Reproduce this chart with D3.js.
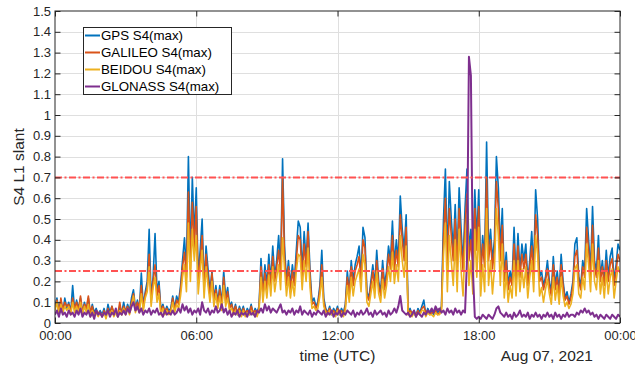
<!DOCTYPE html>
<html>
<head>
<meta charset="utf-8">
<script src="https://cdn.jsdelivr.net/npm/d3@7"></script>
<style>
  body { margin: 0; background: #fff; }
  svg { display: block; font-family: "Liberation Sans", Arial, sans-serif; }
</style>
</head>
<body>
<svg width="635" height="368"></svg>
<script>
// 5-minute samples, 00:00 Aug 07 2021 to 00:00 Aug 08 2021 (289 points)
var gps = [
  0.08,0.12,0.06,0.11,0.05,0.12,0.07,0.10,0.05,0.18,0.06,0.11,
  0.07,0.12,0.05,0.10,0.06,0.12,0.04,0.09,0.05,0.07,0.04,0.06,
  0.04,0.07,0.03,0.09,0.05,0.08,0.04,0.06,0.03,0.08,0.05,0.10,
  0.05,0.09,0.06,0.12,0.16,0.07,0.11,0.06,0.24,0.08,0.15,0.20,
  0.45,0.12,0.22,0.43,0.15,0.20,0.06,0.09,0.05,0.08,0.06,0.07,
  0.13,0.07,0.13,0.10,0.18,0.30,0.41,0.25,0.80,0.30,0.70,0.41,
  0.65,0.22,0.35,0.50,0.18,0.37,0.26,0.15,0.25,0.12,0.18,0.10,
  0.18,0.09,0.25,0.12,0.17,0.08,0.10,0.05,0.09,0.04,0.08,0.05,
  0.08,0.04,0.07,0.05,0.09,0.04,0.07,0.05,0.08,0.31,0.15,0.28,
  0.18,0.33,0.20,0.37,0.22,0.30,0.42,0.25,0.79,0.37,0.20,0.30,
  0.18,0.28,0.20,0.35,0.49,0.46,0.25,0.44,0.30,0.48,0.25,0.10,
  0.12,0.08,0.10,0.18,0.35,0.12,0.07,0.05,0.08,0.04,0.07,0.05,
  0.08,0.04,0.07,0.05,0.09,0.25,0.15,0.30,0.20,0.28,0.32,0.37,
  0.22,0.46,0.41,0.15,0.12,0.20,0.28,0.18,0.35,0.20,0.15,0.30,
  0.18,0.25,0.37,0.30,0.49,0.28,0.40,0.30,0.61,0.45,0.35,0.52,
  0.05,0.07,0.04,0.06,0.03,0.07,0.05,0.08,0.11,0.04,0.07,0.05,
  0.06,0.04,0.07,0.05,0.06,0.08,0.49,0.74,0.30,0.68,0.50,0.35,
  0.57,0.30,0.65,0.45,0.28,0.55,0.74,0.35,0.45,0.30,0.64,0.40,
  0.64,0.25,0.42,0.30,0.87,0.35,0.45,0.30,0.40,0.80,0.65,0.35,
  0.55,0.22,0.34,0.18,0.25,0.20,0.46,0.22,0.43,0.25,0.38,0.30,
  0.38,0.20,0.30,0.44,0.25,0.64,0.50,0.22,0.25,0.18,0.22,0.30,
  0.20,0.15,0.32,0.18,0.25,0.15,0.33,0.20,0.12,0.15,0.10,0.14,
  0.20,0.38,0.41,0.22,0.18,0.30,0.25,0.55,0.40,0.25,0.56,0.30,
  0.25,0.42,0.22,0.30,0.20,0.35,0.22,0.32,0.36,0.20,0.28,0.38,0.35
];
var galileo = [
  0.07,0.11,0.05,0.12,0.06,0.10,0.08,0.09,0.05,0.12,0.07,0.10,
  0.06,0.13,0.05,0.09,0.07,0.13,0.05,0.08,0.04,0.06,0.05,0.05,
  0.03,0.06,0.04,0.07,0.04,0.08,0.05,0.05,0.04,0.10,0.04,0.08,
  0.06,0.08,0.05,0.10,0.14,0.06,0.10,0.07,0.18,0.07,0.14,0.17,
  0.33,0.10,0.20,0.28,0.13,0.18,0.05,0.08,0.06,0.07,0.05,0.06,
  0.12,0.06,0.11,0.09,0.16,0.27,0.34,0.22,0.63,0.26,0.58,0.36,
  0.56,0.20,0.30,0.42,0.16,0.33,0.22,0.13,0.24,0.11,0.16,0.09,
  0.16,0.08,0.22,0.10,0.15,0.07,0.09,0.05,0.08,0.05,0.07,0.04,
  0.07,0.05,0.06,0.04,0.08,0.05,0.06,0.04,0.07,0.27,0.14,0.24,
  0.16,0.28,0.18,0.32,0.20,0.27,0.35,0.22,0.70,0.32,0.18,0.27,
  0.16,0.25,0.18,0.30,0.42,0.40,0.22,0.38,0.27,0.44,0.22,0.09,
  0.10,0.07,0.09,0.16,0.28,0.10,0.06,0.05,0.07,0.05,0.06,0.04,
  0.07,0.05,0.06,0.04,0.08,0.22,0.14,0.27,0.18,0.25,0.28,0.32,
  0.20,0.40,0.36,0.13,0.11,0.18,0.25,0.16,0.30,0.18,0.13,0.26,
  0.16,0.22,0.33,0.26,0.42,0.25,0.35,0.27,0.52,0.40,0.30,0.46,
  0.04,0.06,0.05,0.05,0.04,0.06,0.04,0.07,0.08,0.05,0.06,0.04,
  0.05,0.05,0.06,0.04,0.05,0.07,0.40,0.60,0.26,0.55,0.42,0.30,
  0.50,0.26,0.55,0.38,0.25,0.47,0.62,0.30,0.40,0.26,0.55,0.35,
  0.56,0.22,0.38,0.27,0.70,0.30,0.40,0.26,0.35,0.68,0.55,0.30,
  0.47,0.20,0.30,0.16,0.22,0.18,0.38,0.20,0.37,0.22,0.33,0.26,
  0.33,0.18,0.27,0.37,0.22,0.52,0.42,0.20,0.22,0.16,0.20,0.26,
  0.18,0.13,0.28,0.16,0.22,0.13,0.28,0.18,0.11,0.13,0.09,0.12,
  0.18,0.32,0.35,0.20,0.16,0.27,0.22,0.46,0.35,0.22,0.47,0.27,
  0.22,0.36,0.20,0.27,0.18,0.30,0.20,0.28,0.31,0.18,0.25,0.33,0.30
];
var beidou = [
  0.06,0.10,0.04,0.09,0.05,0.08,0.06,0.08,0.04,0.10,0.05,0.08,
  0.05,0.10,0.04,0.08,0.05,0.09,0.03,0.06,0.04,0.05,0.03,0.05,
  0.03,0.05,0.02,0.06,0.04,0.06,0.03,0.05,0.03,0.06,0.04,0.07,
  0.04,0.07,0.04,0.08,0.13,0.05,0.08,0.05,0.14,0.06,0.12,0.15,
  0.27,0.08,0.17,0.22,0.10,0.14,0.04,0.07,0.04,0.06,0.04,0.05,
  0.10,0.05,0.09,0.07,0.13,0.22,0.28,0.15,0.48,0.20,0.45,0.30,
  0.42,0.14,0.25,0.35,0.12,0.27,0.18,0.10,0.20,0.08,0.14,0.07,
  0.13,0.06,0.18,0.08,0.12,0.06,0.07,0.04,0.06,0.04,0.06,0.03,
  0.06,0.03,0.05,0.04,0.06,0.04,0.05,0.03,0.06,0.22,0.10,0.20,
  0.12,0.23,0.13,0.27,0.15,0.22,0.28,0.16,0.41,0.26,0.13,0.22,
  0.12,0.20,0.13,0.25,0.33,0.32,0.16,0.30,0.20,0.36,0.17,0.07,
  0.08,0.06,0.07,0.13,0.22,0.08,0.05,0.04,0.06,0.04,0.05,0.03,
  0.06,0.04,0.05,0.03,0.06,0.18,0.10,0.22,0.13,0.20,0.23,0.26,
  0.15,0.33,0.28,0.10,0.08,0.14,0.20,0.12,0.25,0.14,0.10,0.21,
  0.12,0.18,0.27,0.20,0.34,0.19,0.28,0.20,0.42,0.30,0.22,0.37,
  0.04,0.05,0.03,0.05,0.03,0.05,0.04,0.06,0.06,0.03,0.05,0.04,
  0.04,0.03,0.05,0.04,0.04,0.06,0.32,0.48,0.15,0.42,0.30,0.18,
  0.40,0.15,0.45,0.25,0.13,0.38,0.52,0.18,0.30,0.14,0.45,0.22,
  0.46,0.13,0.28,0.15,0.55,0.18,0.30,0.14,0.26,0.55,0.42,0.18,
  0.38,0.12,0.24,0.10,0.18,0.12,0.30,0.13,0.30,0.15,0.26,0.17,
  0.27,0.12,0.22,0.30,0.15,0.42,0.33,0.13,0.17,0.10,0.16,0.21,
  0.14,0.09,0.22,0.11,0.18,0.09,0.22,0.13,0.08,0.10,0.07,0.09,
  0.14,0.26,0.28,0.14,0.12,0.22,0.16,0.38,0.28,0.15,0.38,0.20,
  0.16,0.30,0.14,0.22,0.12,0.25,0.14,0.22,0.26,0.12,0.20,0.27,0.24
];
var glonass = [
  0.04,0.06,0.03,0.07,0.04,0.05,0.03,0.06,0.04,0.05,0.03,0.06,
  0.04,0.07,0.03,0.05,0.04,0.06,0.03,0.05,0.02,0.06,0.04,0.05,
  0.03,0.05,0.04,0.06,0.03,0.05,0.04,0.07,0.03,0.05,0.04,0.06,
  0.04,0.07,0.05,0.08,0.10,0.06,0.08,0.05,0.07,0.04,0.06,0.05,
  0.07,0.04,0.06,0.05,0.07,0.04,0.05,0.03,0.06,0.04,0.05,0.04,
  0.06,0.04,0.05,0.07,0.05,0.09,0.06,0.08,0.05,0.07,0.04,0.06,
  0.05,0.07,0.04,0.10,0.06,0.05,0.07,0.04,0.06,0.05,0.08,0.05,
  0.06,0.09,0.05,0.07,0.04,0.06,0.03,0.05,0.04,0.06,0.03,0.05,
  0.04,0.05,0.03,0.06,0.04,0.05,0.03,0.06,0.05,0.07,0.05,0.09,
  0.06,0.08,0.05,0.07,0.06,0.05,0.07,0.09,0.05,0.06,0.04,0.06,
  0.05,0.07,0.04,0.06,0.05,0.08,0.04,0.06,0.05,0.04,0.06,0.03,
  0.05,0.04,0.06,0.05,0.04,0.06,0.03,0.05,0.04,0.06,0.03,0.05,
  0.04,0.06,0.03,0.05,0.04,0.06,0.05,0.04,0.06,0.03,0.05,0.04,
  0.06,0.04,0.05,0.07,0.04,0.05,0.03,0.06,0.04,0.05,0.06,0.04,
  0.05,0.03,0.06,0.04,0.05,0.07,0.05,0.08,0.13,0.06,0.05,0.04,
  0.05,0.03,0.04,0.06,0.03,0.05,0.04,0.03,0.05,0.04,0.06,0.05,
  0.07,0.05,0.08,0.06,0.07,0.05,0.06,0.04,0.07,0.05,0.06,0.04,
  0.07,0.05,0.06,0.04,0.06,0.05,0.30,1.28,1.19,0.25,0.03,0.02,
  0.03,0.02,0.04,0.03,0.02,0.04,0.03,0.02,0.04,0.07,0.08,0.05,
  0.04,0.03,0.05,0.03,0.04,0.02,0.05,0.03,0.04,0.06,0.03,0.04,
  0.03,0.05,0.02,0.04,0.03,0.05,0.03,0.04,0.02,0.04,0.03,0.05,
  0.03,0.04,0.02,0.05,0.03,0.04,0.02,0.04,0.03,0.05,0.03,0.04,
  0.04,0.03,0.05,0.04,0.06,0.05,0.07,0.05,0.06,0.04,0.05,0.03,
  0.04,0.02,0.04,0.03,0.02,0.04,0.03,0.02,0.04,0.03,0.02,0.04,0.03
];
var seriesNames = ["GPS S4(max)", "GALILEO S4(max)", "BEIDOU S4(max)", "GLONASS S4(max)"];
var seriesColors = ["#0072BD", "#D95319", "#EDB120", "#7E2F8E"];
var thresholds = [0.25, 0.7];
var yTicks = [0, 0.1, 0.2, 0.3, 0.4, 0.5, 0.6, 0.7, 0.8, 0.9, 1, 1.1, 1.2, 1.3, 1.4, 1.5];
var xTickHours = [0, 6, 12, 18, 24];

var t0 = Date.UTC(2021, 7, 7);
var times = gps.map(function(d, i) { return new Date(t0 + i * 5 * 60000); });
var xTicks = xTickHours.map(function(h) { return new Date(t0 + h * 3600000); });

var plotLeft = 55, plotRight = 620, plotTop = 11, plotBottom = 323;
var axisColor = "#262626";

var svg = d3.select("svg");

var x = d3.scaleUtc().domain([new Date(t0), new Date(t0 + 24 * 3600000)]).range([plotLeft, plotRight]);
var y = d3.scaleLinear().domain([0, 1.5]).range([plotBottom, plotTop]);

svg.append("defs").append("clipPath").attr("id", "plot")
  .append("rect").attr("x", plotLeft).attr("y", plotTop)
  .attr("width", plotRight - plotLeft).attr("height", plotBottom - plotTop);

// grid
var grid = svg.append("g").attr("stroke", "#dfdfdf").attr("stroke-width", 1);
grid.selectAll(".gy").data(yTicks.slice(1, -1)).enter().append("line")
  .attr("x1", plotLeft).attr("x2", plotRight)
  .attr("y1", function(d) { return Math.round(y(d)) + 0.5; })
  .attr("y2", function(d) { return Math.round(y(d)) + 0.5; });
grid.selectAll(".gx").data(xTicks.slice(1, -1)).enter().append("line")
  .attr("y1", plotTop).attr("y2", plotBottom)
  .attr("x1", function(d) { return Math.round(x(d)) + 0.5; })
  .attr("x2", function(d) { return Math.round(x(d)) + 0.5; });

// series
var allSeries = [gps, galileo, beidou, glonass];
var line = d3.line()
  .x(function(d, i) { return x(times[i]); })
  .y(function(d) { return y(d); });

var plot = svg.append("g").attr("clip-path", "url(#plot)");
plot.selectAll("path.series").data(allSeries).enter().append("path")
  .attr("class", "series")
  .attr("d", line)
  .attr("fill", "none")
  .attr("stroke", function(d, i) { return seriesColors[i]; })
  .attr("stroke-width", function(d, i) { return i == 3 ? 2 : 1.6; })
  .attr("stroke-linejoin", "round");

// thresholds
plot.selectAll("line.thr").data(thresholds).enter().append("line")
  .attr("x1", plotLeft).attr("x2", plotRight)
  .attr("y1", function(d) { return y(d); })
  .attr("y2", function(d) { return y(d); })
  .attr("stroke", "#ff5252")
  .attr("stroke-width", 2)
  .attr("stroke-dasharray", "7,2.5,2,2.5");

// axes
function styleAxis(g) {
  g.select(".domain").remove();
  g.selectAll(".tick line").attr("stroke", axisColor);
  g.selectAll(".tick text").attr("fill", axisColor).attr("font-size", "13px")
    .attr("font-family", "Liberation Sans, Arial, sans-serif");
}
svg.append("g").attr("transform", "translate(0," + plotBottom + ")")
  .call(d3.axisBottom(x).tickValues(xTicks).tickFormat(d3.utcFormat("%H:%M")).tickSizeInner(-5.5).tickSizeOuter(0).tickPadding(8))
  .call(styleAxis);
svg.append("g").attr("transform", "translate(0," + plotTop + ")")
  .call(d3.axisTop(x).tickValues(xTicks).tickFormat("").tickSizeInner(-5.5).tickSizeOuter(0))
  .call(styleAxis);
svg.append("g").attr("transform", "translate(" + plotLeft + ",0)")
  .call(d3.axisLeft(y).tickValues(yTicks).tickFormat(d3.format("~g")).tickSizeInner(-5.5).tickSizeOuter(0).tickPadding(4))
  .call(styleAxis);
svg.append("g").attr("transform", "translate(" + plotRight + ",0)")
  .call(d3.axisRight(y).tickValues(yTicks).tickFormat("").tickSizeInner(-5.5).tickSizeOuter(0))
  .call(styleAxis);

svg.append("rect")
  .attr("x", plotLeft).attr("y", plotTop)
  .attr("width", plotRight - plotLeft).attr("height", plotBottom - plotTop)
  .attr("fill", "none").attr("stroke", axisColor).attr("stroke-width", 1);

// labels
svg.append("text")
  .attr("x", (plotLeft + plotRight) / 2).attr("y", 361)
  .attr("text-anchor", "middle").attr("fill", axisColor).attr("font-size", "15.5px")
  .text("time (UTC)");
svg.append("text")
  .attr("x", 593).attr("y", 361)
  .attr("text-anchor", "end").attr("fill", axisColor).attr("font-size", "15.5px")
  .text("Aug 07, 2021");
svg.append("text")
  .attr("transform", "translate(24," + (plotTop + plotBottom) / 2 + ") rotate(-90)")
  .attr("text-anchor", "middle").attr("fill", axisColor).attr("font-size", "15.5px")
  .text("S4 L1 slant");

// legend
var legend = svg.append("g");
legend.append("rect")
  .attr("x", 83.5).attr("y", 27.5).attr("width", 148).attr("height", 67)
  .attr("fill", "#fff").attr("stroke", axisColor).attr("stroke-width", 1);
var rows = legend.selectAll("g.row").data(seriesNames).enter().append("g")
  .attr("transform", function(d, i) { return "translate(0," + (35.5 + i * 17) + ")"; });
rows.append("line")
  .attr("x1", 85).attr("x2", 100)
  .attr("stroke", function(d, i) { return seriesColors[i]; })
  .attr("stroke-width", 2);
rows.append("text")
  .attr("x", 101).attr("dy", "0.36em")
  .attr("fill", "#000").attr("font-size", "13.3px")
  .text(function(d) { return d; });
</script>
</body>
</html>
